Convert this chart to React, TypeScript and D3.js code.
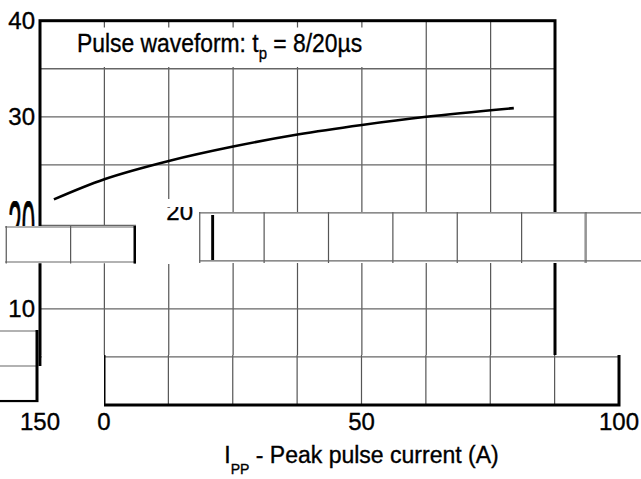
import React from 'react';
import * as d3 from 'd3';

// ---- data ----
const currentA = [2.7, 12.5, 25, 37.5, 50, 62.5, 75, 92];
const clampV = [21.4, 23.5, 25.4, 26.9, 28.15, 29.15, 30.0, 30.9];
const xGrid = [0, 12.5, 25, 37.5, 50, 62.5, 75, 87.5, 100];
const yGrid = [0, 5, 10, 15, 20, 25, 30, 35, 40];
const yTickLabels = [10, 20, 30, 40];
const xTickLabels = [0, 50, 100, 150];

const W = 641;
const H = 479;
const FONT = '"Liberation Sans", Arial, Helvetica, sans-serif';

const x = d3.scaleLinear().domain([0, 100]).range([40, 555]);
const y = d3.scaleLinear().domain([0, 40]).range([405, 20.7]);

const curve = d3
  .line<number>()
  .x((_, i) => x(currentA[i]))
  .y((d) => y(d))
  .curve(d3.curveCatmullRom.alpha(0.5));

type Piece = {
  id: string;
  clip: [number, number, number, number];
  white?: boolean;
  uses: { href: string; transform: string }[];
};

// glitch pieces of the reference image: clipped, displaced copies of the chart
const pieces: Piece[] = [
  {
    id: 'f',
    clip: [0, 201, 200, 25.5],
    white: true,
    uses: [
      { href: '#grid', transform: 'translate(0,-411.8) scale(1,3)' },
      { href: '#ylabels', transform: 'translate(0,-411.8) scale(1,3)' },
    ],
  },
  { id: 'e0', clip: [136, 199, 63, 65], white: true, uses: [] },
  {
    id: 'e',
    clip: [136, 207, 63, 19],
    uses: [{ href: '#ylabels', transform: 'translate(158,-1)' }],
  },
  {
    id: 'b',
    clip: [5, 226, 131, 37.5],
    white: true,
    uses: [{ href: '#grid', transform: 'translate(-420,71.8) scale(1,0.729)' }],
  },
  {
    id: 'a',
    clip: [199, 212, 385.6, 51],
    white: true,
    uses: [{ href: '#grid', transform: 'translate(31,0)' }],
  },
  {
    id: 'a3',
    clip: [584.6, 212, 56.4, 51],
    white: true,
    uses: [{ href: '#grid', transform: 'translate(481.6,0)' }],
  },
  {
    id: 'a2',
    clip: [211, 215, 3.5, 45],
    uses: [{ href: '#grid', transform: 'translate(172.7,0)' }],
  },
  { id: 'g1', clip: [41.6, 355, 62.4, 124], white: true, uses: [] },
  { id: 'g0', clip: [0, 366, 104, 113], white: true, uses: [] },
  {
    id: 'c',
    clip: [104, 355, 537, 52],
    white: true,
    uses: [{ href: '#grid', transform: 'translate(64,0)' }],
  },
  {
    id: 'c2',
    clip: [88, 407, 553, 72],
    white: true,
    uses: [
      { href: '#grid', transform: 'translate(64,0)' },
      { href: '#xlabels', transform: 'translate(64,0)' },
    ],
  },
  {
    id: 'g2',
    clip: [0, 407, 88, 72],
    white: true,
    uses: [{ href: '#xlabels', transform: `translate(${x(0) - x(150)},0)` }],
  },
  {
    id: 'd',
    clip: [0, 330, 39, 76],
    uses: [{ href: '#grid', transform: 'translate(-518,105.8) scale(1,0.729)' }],
  },
];

const textStyle = { fill: '#000', stroke: '#000', strokeWidth: 0.35 };

export default function App() {
  return (
    <svg
      width={W}
      height={H}
      viewBox={`0 0 ${W} ${H}`}
      style={{ position: 'absolute', left: 0, top: 0, display: 'block', background: '#fff' }}
      fontFamily={FONT}
    >
      <defs>
        <g id="grid">
          {xGrid.map((v) => (
            <line key={'vx' + v} x1={x(v)} x2={x(v)} y1={y(40)} y2={y(0)} stroke="#555" strokeWidth={1.2} />
          ))}
          {yGrid.map((v) => (
            <line key={'hy' + v} x1={x(0)} x2={x(100)} y1={y(v)} y2={y(v)} stroke="#666" strokeWidth={1.3} />
          ))}
          <rect x={x(0) + 1.5} y={27.5} width={340} height={39.5} fill="#fff" />
          <rect
            x={x(0)}
            y={y(40)}
            width={x(100) - x(0)}
            height={y(0) - y(40)}
            fill="none"
            stroke="#000"
            strokeWidth={3}
          />
          <path d={curve(clampV) || ''} fill="none" stroke="#000" strokeWidth={2.6} />
          <text transform="translate(77,52) scale(0.88,1)" fontSize={26} style={textStyle}>
            Pulse waveform: t
            <tspan dy={7} fontSize={17}>p</tspan>
            <tspan dy={-7}> = 8/20µs</tspan>
          </text>
        </g>
        <g id="ylabels">
          {yTickLabels.map((v) => (
            <text key={'yl' + v} x={35} y={y(v) + 8.5} textAnchor="end" fontSize={24} style={textStyle}>
              {v}
            </text>
          ))}
        </g>
        <g id="xlabels">
          {xTickLabels.map((v) => (
            <text key={'xl' + v} x={x(v)} y={y(0) + 25} textAnchor="middle" fontSize={24} style={textStyle}>
              {v}
            </text>
          ))}
          <text x={(x(0) + x(100)) / 2} y={463} textAnchor="middle" fontSize={23} style={textStyle}>
            I<tspan dy={11} fontSize={14}>PP</tspan>
            <tspan dy={-11}> - Peak pulse current (A)</tspan>
          </text>
        </g>
        {pieces.map((p) => (
          <clipPath id={'clip-' + p.id} key={'cp' + p.id}>
            <rect x={p.clip[0]} y={p.clip[1]} width={p.clip[2]} height={p.clip[3]} />
          </clipPath>
        ))}
      </defs>

      <rect x={0} y={0} width={W} height={H} fill="#fff" />
      <use href="#grid" />
      <use href="#ylabels" />
      <use href="#xlabels" />

      {pieces.map((p) => (
        <g key={'pc' + p.id} clipPath={`url(#clip-${p.id})`}>
          {p.white && <rect x={p.clip[0]} y={p.clip[1]} width={p.clip[2]} height={p.clip[3]} fill="#fff" />}
          {p.uses.map((u, i) => (
            <use key={i} href={u.href} transform={u.transform} />
          ))}
        </g>
      ))}
    </svg>
  );
}
